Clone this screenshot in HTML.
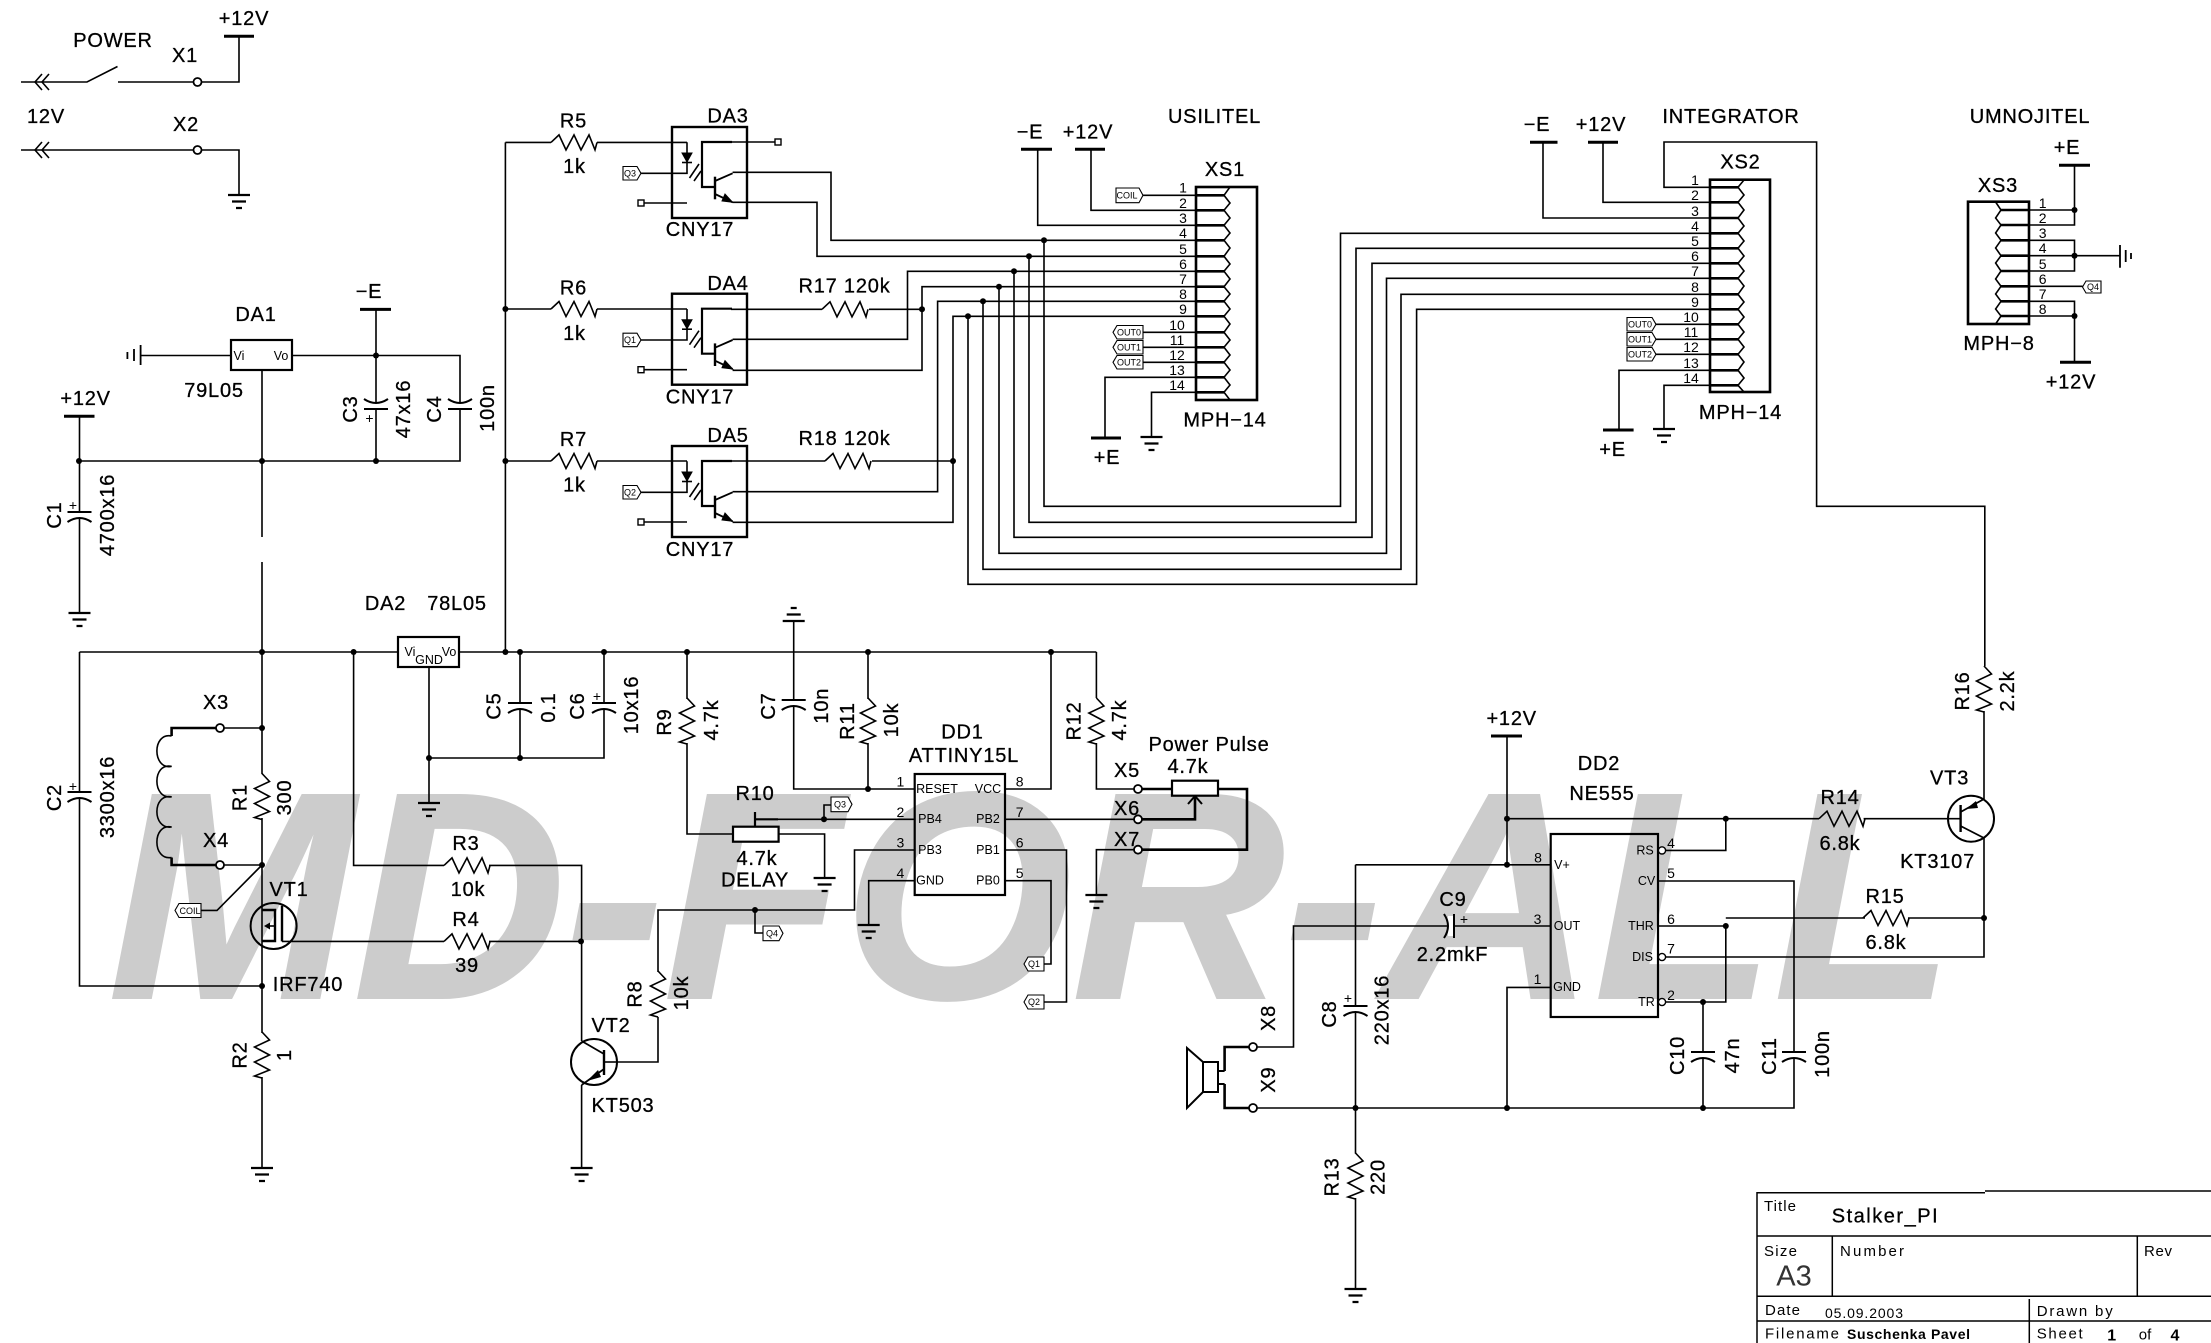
<!DOCTYPE html>
<html><head><meta charset="utf-8"><title>Stalker_PI</title>
<style>
html,body{margin:0;padding:0;background:#fff}
svg{display:block}
text{font-family:"Liberation Sans",sans-serif;fill:#000;stroke:none;text-anchor:middle;dominant-baseline:central}
.t{font-size:20px;letter-spacing:.8px;stroke:#000;stroke-width:.3px}
.s{font-size:14px}
.p{font-size:12.5px}
.g{font-size:9px}
.l{text-anchor:start}
.w{fill:none;stroke:#000;stroke-width:1.6}
.k{fill:none;stroke:#000;stroke-width:2.6}
.wm{font-size:295px;font-weight:bold;font-style:italic;fill:#ccc;stroke:#ccc;stroke-width:2px;letter-spacing:-.6px;text-anchor:start;dominant-baseline:auto}
</style></head><body>
<svg xmlns="http://www.w3.org/2000/svg" width="2211" height="1343" viewBox="0 0 2211 1343">
<defs>
<path id="r" class="w" d="M0 0L8 -7.5L15 7.5L23 -7.5L30 7.5L38 -7.5L44 7.5L46 0"/>
<path id="gnd" d="M-11 0H11M-7 6.5H7M-3 13H3" fill="none" stroke="#000" stroke-width="2.2"/>
<circle id="d" r="3" fill="#000"/>
<circle id="o" r="4" fill="#fff" stroke="#000" stroke-width="1.8"/>
<g id="cap"><rect x="-10" y="-3" width="20" height="6" fill="#fff"/><path d="M-12 -3H12M-12 7Q0 -1 12 7" fill="none" stroke="#000" stroke-width="2"/></g>
<g id="opto" fill="none" stroke="#000">
<rect x="0" y="0" width="75" height="91" stroke-width="2.4"/>
<path d="M15 15.3V46.3H-31" stroke-width="1.6"/>
<path d="M10 26H20L15 35Z" fill="#000" stroke-width="1"/><path d="M10 35.5H20" stroke-width="1.6"/>
<path d="M17.5 51L27 37M22 54L29 44" stroke-width="1.6"/>
<path d="M15 76H-31" stroke-width="1.6"/><rect x="-34" y="73" width="6" height="6" fill="#fff" stroke-width="1.4"/>
<path d="M60 15H30V60H43" stroke-width="2.2"/><path d="M43 49.7V72.3" stroke-width="2.4"/>
<path d="M43 54L60.6 46.3M43 67L60.6 75.3" stroke-width="1.8"/><path d="M60.6 75.3L50 74L53 67Z" fill="#000" stroke-width="1"/>
</g>
</defs>
<rect width="2211" height="1343" fill="#fff"/>
<text class="wm" x="108" y="998">MD-FOR-ALL</text>

<!-- power -->
<g class="w">
<path d="M21 82H87L117.5 66.5M118 82H239V36M224 36H254" />
<path d="M21 150H239V195"/>
<path d="M42 74L35 82L42 90M49 74L42 82L49 90"/>
<path d="M42 142L35 150L42 158M49 142L42 150L49 158"/>
</g>
<path d="M224 36.3H254" stroke="#000" stroke-width="3"/>
<use href="#o" x="197.5" y="82"/><use href="#o" x="197.5" y="150"/>
<use href="#gnd" x="239" y="195"/>
<text class="t" x="244" y="19">+12V</text><text class="t" x="113" y="41">POWER</text><text class="t" x="185" y="56">X1</text><text class="t" x="46" y="117">12V</text><text class="t" x="186" y="125">X2</text>

<!-- DA1 section -->
<g class="w">
<path d="M141 355.5H231M292 355.5H460V461H79M262 370V537M262 562V774M262 818V1033M262 1077V1168"/>
<path d="M376 309.4V461M79.5 416V613"/>
<path d="M505.4 142.4V652M505.4 142.4H551M597 142.4H687M505.4 309H551M597 309H687M505.4 461H551M597 461H687"/>
</g>
<path d="M140.6 345V365M134 349V361M127.4 352V359" stroke="#000" stroke-width="1.8"/>
<rect x="231" y="340" width="61" height="30" fill="none" stroke="#000" stroke-width="2.2"/>
<path d="M360 309.4H391M64 416.3H94.5" stroke="#000" stroke-width="3"/>
<use href="#d" x="376" y="355.5"/><use href="#d" x="79" y="461"/><use href="#d" x="262" y="461"/><use href="#d" x="376" y="461"/><use href="#d" x="505.4" y="309"/><use href="#d" x="505.4" y="461"/>
<use href="#gnd" x="79.5" y="613"/>
<use href="#cap" transform="translate(79.5 515)"/>
<use href="#cap" transform="translate(376 406) scale(1 -1)"/>
<use href="#cap" transform="translate(460 406) scale(1 -1)"/>
<text class="t" x="256" y="315">DA1</text><text class="t" x="214" y="391">79L05</text><text class="p" x="239" y="356">Vi</text><text class="p" x="281" y="356">Vo</text>
<text class="t" x="369" y="292">−E</text><text class="t" x="85.6" y="399">+12V</text>
<text class="s" x="73" y="505">+</text><text class="s" x="369.5" y="418">+</text>
<text class="t" transform="rotate(-90 55 515)" x="55" y="515">C1</text><text class="t" transform="rotate(-90 108 515)" x="108" y="515">4700x16</text>
<text class="t" transform="rotate(-90 351 409)" x="351" y="409">C3</text><text class="t" transform="rotate(-90 404 409)" x="404" y="409">47x16</text>
<text class="t" transform="rotate(-90 435 409)" x="435" y="409">C4</text><text class="t" transform="rotate(-90 488 408)" x="488" y="408">100n</text>
<use href="#r" x="551" y="142.4"/><use href="#r" x="551" y="309"/><use href="#r" x="551" y="461"/>
<text class="t" x="573.5" y="121.6">R5</text><text class="t" x="574.5" y="167">1k</text><text class="t" x="573.5" y="288.6">R6</text><text class="t" x="574.5" y="334">1k</text><text class="t" x="573.5" y="440">R7</text><text class="t" x="574.5" y="485.7">1k</text>

<!-- opto -->
<use href="#opto" x="672" y="127"/><use href="#opto" x="672" y="293.7"/><use href="#opto" x="672" y="446"/>
<g fill="#fff" stroke="#000" stroke-width="1.1">
<path d="M623 166.5H637L641 173.3L637 180H623Z"/><path d="M623 333.2H637L641 340L637 346.7H623Z"/><path d="M623 485.5H637L641 492.3L637 499H623Z"/>
</g>
<text class="g" x="630" y="173.5">Q3</text><text class="g" x="630" y="340">Q1</text><text class="g" x="630" y="492.5">Q2</text>
<rect x="775" y="139" width="6" height="6" fill="#fff" stroke="#000" stroke-width="1.4"/>
<g class="w">
<path d="M731 142H775"/>
<path d="M732.6 172.3H831V240.3H1196M732.6 202.3H817V256.3H1196"/>
<path d="M731 309.3H822M869 309.3H922M732.6 339.3H907.5V271.3H1196M732.6 370.3H922V286.7H1196"/>
<path d="M731 461H825M872 461H953M732.6 491.7H937.6V301.3H1196M732.6 522.3H953V316.3H1196"/>
<path d="M1044 240.3V506.3H1340.5V233.3H1710M1029 256.3V522.3H1356V248.3H1710M1014 271.3V537.3H1372V263.3H1710M999 286.7V553.3H1386.5V278.3H1710M983 301.3V569.3H1401V294.3H1710M968 316.3V584.3H1416.6V309.3H1710"/>
</g>
<use href="#r" x="822" y="309.3"/><use href="#r" x="825" y="461"/>
<use href="#d" x="922" y="309.3"/><use href="#d" x="953" y="461"/>
<use href="#d" x="1044" y="240.3"/><use href="#d" x="1029" y="256.3"/><use href="#d" x="1014" y="271.3"/><use href="#d" x="999" y="286.7"/><use href="#d" x="983" y="301.3"/><use href="#d" x="968" y="316.3"/>
<text class="t" x="728" y="116.7">DA3</text><text class="t" x="728" y="284">DA4</text><text class="t" x="728" y="436">DA5</text>
<text class="t" x="700" y="230">CNY17</text><text class="t" x="700" y="397.7">CNY17</text><text class="t" x="700" y="550">CNY17</text>
<text class="t" x="844.5" y="286.7">R17 120k</text><text class="t" x="844.5" y="439">R18 120k</text>

<!-- XS1 -->
<g class="w">
<path d="M1143 195.3H1196M1091 149V210.3H1196M1037.7 149V225.3H1196M1143 332.3H1196M1143 347.3H1196M1143 362.3H1196M1105 438V377.3H1196M1151.5 437V392.3H1196"/>
</g>
<path d="M1021 149.3H1052M1075 149.3H1105M1091 438H1121" stroke="#000" stroke-width="3"/>
<use href="#gnd" x="1151.5" y="437"/>
<rect x="1196" y="187" width="61" height="213" fill="none" stroke="#000" stroke-width="2.6"/>
<path class="k" d="M1196 195.3H1224M1196 210.3H1224M1196 225.3H1224M1196 240.3H1224M1196 256.3H1224M1196 271.3H1224M1196 286.7H1224M1196 301.3H1224M1196 316.3H1224M1196 332.3H1224M1196 347.3H1224M1196 362.3H1224M1196 377.3H1224M1196 392.3H1224"/>
<path class="w" d="M1230 187L1224 195.3L1230 203L1224 210.3L1230 218L1224 225.3L1230 233L1224 240.3L1230 248L1224 256.3L1230 264L1224 271.3L1230 279L1224 286.7L1230 294L1224 301.3L1230 309L1224 316.3L1230 324L1224 332.3L1230 340L1224 347.3L1230 355L1224 362.3L1230 370L1224 377.3L1230 385L1224 392.3L1230 400"/>
<g fill="#fff" stroke="#000" stroke-width="1.1">
<path d="M1116 188H1139L1143 195.3L1139 202.7H1116Z"/>
<path d="M1117 325.5H1143V339H1117L1113 332.3Z"/><path d="M1117 340.5H1143V354H1117L1113 347.3Z"/><path d="M1117 355.5H1143V369H1117L1113 362.3Z"/>
</g>
<text class="g" x="1127" y="195.5">COIL</text><text class="g" x="1129" y="332.5">OUT0</text><text class="g" x="1129" y="347.5">OUT1</text><text class="g" x="1129" y="362.5">OUT2</text>
<g class="s">
<text x="1183" y="187.5">1</text><text x="1183" y="203">2</text><text x="1183" y="218">3</text><text x="1183" y="233">4</text><text x="1183" y="249">5</text><text x="1183" y="264">6</text><text x="1183" y="279">7</text><text x="1183" y="294">8</text><text x="1183" y="309">9</text><text x="1177" y="325">10</text><text x="1177" y="340">11</text><text x="1177" y="355">12</text><text x="1177" y="370">13</text><text x="1177" y="385">14</text>
</g>
<text class="t" x="1030" y="132.7">−E</text><text class="t" x="1088" y="132.7">+12V</text><text class="t" x="1214.5" y="117">USILITEL</text><text class="t" x="1225" y="170">XS1</text><text class="t" x="1225" y="420.7">MPH−14</text><text class="t" x="1107" y="458">+E</text>

<!-- XS2 -->
<g class="w">
<path d="M1984.8 666V506.3H1816.6V142H1664V187.3H1710M1603 142V202.3H1710M1543 142V218H1710M1656 324.3H1710M1656 339.3H1710M1656 354.3H1710M1619 430V370.3H1710M1664 429V385.3H1710"/>
</g>
<path d="M1530 142.3H1557.5M1588 142.3H1618M1603 430H1633.6" stroke="#000" stroke-width="3"/>
<use href="#gnd" x="1664" y="429"/>
<rect x="1710" y="179.7" width="60" height="212.3" fill="none" stroke="#000" stroke-width="2.6"/>
<path class="k" d="M1710 187.3H1738M1710 202.3H1738M1710 218H1738M1710 233.3H1738M1710 248.3H1738M1710 263.3H1738M1710 278.3H1738M1710 294.3H1738M1710 309.3H1738M1710 324.3H1738M1710 339.3H1738M1710 354.3H1738M1710 370.3H1738M1710 385.3H1738"/>
<path class="w" d="M1744 180L1738 187.3L1744 195L1738 202.3L1744 210L1738 218L1744 226L1738 233.3L1744 241L1738 248.3L1744 256L1738 263.3L1744 271L1738 278.3L1744 286L1738 294.3L1744 302L1738 309.3L1744 317L1738 324.3L1744 332L1738 339.3L1744 347L1738 354.3L1744 362L1738 370.3L1744 378L1738 385.3L1744 392"/>
<g fill="#fff" stroke="#000" stroke-width="1.1">
<path d="M1627 317.5H1652L1656 324.3L1652 331H1627Z"/><path d="M1627 332.5H1652L1656 339.3L1652 346H1627Z"/><path d="M1627 347.5H1652L1656 354.3L1652 361H1627Z"/>
</g>
<text class="g" x="1640" y="324.5">OUT0</text><text class="g" x="1640" y="339.5">OUT1</text><text class="g" x="1640" y="354.5">OUT2</text>
<g class="s">
<text x="1695" y="180">1</text><text x="1695" y="195">2</text><text x="1695" y="211">3</text><text x="1695" y="226">4</text><text x="1695" y="241">5</text><text x="1695" y="256">6</text><text x="1695" y="271">7</text><text x="1695" y="287">8</text><text x="1695" y="302">9</text><text x="1691" y="317">10</text><text x="1691" y="332">11</text><text x="1691" y="347">12</text><text x="1691" y="363">13</text><text x="1691" y="378">14</text>
</g>
<text class="t" x="1537" y="125">−E</text><text class="t" x="1601" y="125">+12V</text><text class="t" x="1731" y="117">INTEGRATOR</text><text class="t" x="1740.5" y="162.7">XS2</text><text class="t" x="1740.5" y="413">MPH−14</text><text class="t" x="1612.6" y="450">+E</text>

<!-- XS3 -->
<g class="w">
<path d="M2029 210H2074.5M2029 225H2074.5V165M2029 240.3H2074.5V271H2029M2029 255.7H2120M2029 286.3H2082.5M2029 301.3H2074.5V362M2029 316H2074.5"/>
</g>
<path d="M2059 165.3H2090M2060 362.3H2091" stroke="#000" stroke-width="3"/>
<path d="M2120 245V267.7M2125.7 250V262M2131 253V259" stroke="#000" stroke-width="1.8"/>
<rect x="1968" y="201.7" width="61" height="122.3" fill="none" stroke="#000" stroke-width="2.6"/>
<path class="k" d="M2001 210H2029M2001 225H2029M2001 240.3H2029M2001 255.7H2029M2001 271H2029M2001 286.3H2029M2001 301.3H2029M2001 316H2029"/>
<path class="w" d="M1995.6 202L2001 210L1995.6 218L2001 225L1995.6 233L2001 240.3L1995.6 248L2001 255.7L1995.6 263L2001 271L1995.6 279L2001 286.3L1995.6 294L2001 301.3L1995.6 309L2001 316L1995.6 324"/>
<use href="#d" x="2074.5" y="210"/><use href="#d" x="2074.5" y="255.7"/><use href="#d" x="2074.5" y="316"/>
<path d="M2082.5 287L2086 281H2101V293H2086Z" fill="#fff" stroke="#000" stroke-width="1.1"/>
<text class="g" x="2093" y="287">Q4</text>
<g class="s">
<text x="2042.7" y="203">1</text><text x="2042.7" y="218">2</text><text x="2042.7" y="233">3</text><text x="2042.7" y="248">4</text><text x="2042.7" y="264">5</text><text x="2042.7" y="279">6</text><text x="2042.7" y="294">7</text><text x="2042.7" y="309">8</text>
</g>
<text class="t" x="2030" y="117">UMNOJITEL</text><text class="t" x="1998" y="186">XS3</text><text class="t" x="1999" y="344">MPH−8</text><text class="t" x="2067" y="148">+E</text><text class="t" x="2071" y="382.7">+12V</text>

<!-- DA2, bus -->
<g class="w">
<path d="M79.5 652H398M459 652H1096.4M429 667V803M429 758H604V652M520 652V758"/>
<path d="M79.5 652V986H262M353.6 652V865.4H444M489 865.4H581.6V1041M581.6 1085V1168M282 941.4H444M489 941.4H581.6"/>
<path d="M220 728H262M220 865H262M201 910.4H217L262 865"/>
<path d="M687 652V699M687 743V834H733M778.6 834H824.6V878"/>
<path d="M793.7 621V789H914.7M868 652V699M868 743V789"/>
<path d="M1005 789H1051V652M1096.4 652V698M1096.4 743V789H1138M1005 819.3H1138M778 819.3H914.7M824 819.3V805H831"/>
<path d="M914.7 850H854.5V910H658V972M658 1017V1062H617M755 910V933H763"/>
<path d="M914.7 880.7H868.7V925M1005 850H1066.5V1002H1044M1005 880.7H1051V964H1044M1138 849.7H1096.4V895"/>
</g>
<rect x="398" y="637" width="61" height="30" fill="none" stroke="#000" stroke-width="2.2"/>
<text class="p" x="410" y="652">Vi</text><text class="p" x="429" y="660">GND</text><text class="p" x="449" y="652">Vo</text>
<text class="t" x="385.5" y="604">DA2</text><text class="t" x="457" y="604">78L05</text>
<use href="#d" x="353.6" y="652"/><use href="#d" x="505.4" y="652"/><use href="#d" x="520" y="652"/><use href="#d" x="604" y="652"/><use href="#d" x="687" y="652"/><use href="#d" x="868" y="652"/><use href="#d" x="1051" y="652"/>
<use href="#d" x="429" y="758"/><use href="#d" x="520" y="758"/><use href="#d" x="262" y="728"/><use href="#d" x="262" y="865"/><use href="#d" x="262" y="986"/><use href="#d" x="581" y="941.4"/><use href="#d" x="868" y="789"/><use href="#d" x="824" y="819.3"/><use href="#d" x="755" y="910"/><use href="#d" x="262" y="652"/>
<use href="#gnd" x="429" y="803"/><use href="#gnd" x="262" y="1168"/><use href="#gnd" x="581.6" y="1168"/><use href="#gnd" x="824.6" y="878"/><use href="#gnd" x="868.7" y="925"/><use href="#gnd" x="1096.4" y="895"/>
<use href="#gnd" transform="translate(793.7 621) scale(1 -1)"/>
<use href="#cap" transform="translate(79.5 795)"/><use href="#cap" transform="translate(520 706)"/><use href="#cap" transform="translate(604 706)"/><use href="#cap" transform="translate(793.7 703)"/>
<text class="s" x="73" y="786">+</text><text class="s" x="597" y="696">+</text>
<text class="t" transform="rotate(-90 55 797.5)" x="55" y="797.5">C2</text><text class="t" transform="rotate(-90 108 797)" x="108" y="797">3300x16</text>
<text class="t" transform="rotate(-90 494.6 706)" x="494.6" y="706">C5</text><text class="t" transform="rotate(-90 549 707.5)" x="549" y="707.5">0.1</text>
<text class="t" transform="rotate(-90 578 706)" x="578" y="706">C6</text><text class="t" transform="rotate(-90 632 705)" x="632" y="705">10x16</text>
<text class="t" transform="rotate(-90 665 722)" x="665" y="722">R9</text><text class="t" transform="rotate(-90 712 720)" x="712" y="720">4.7k</text>
<text class="t" transform="rotate(-90 769 706)" x="769" y="706">C7</text><text class="t" transform="rotate(-90 822 705.7)" x="822" y="705.7">10n</text>
<text class="t" transform="rotate(-90 848 721)" x="848" y="721">R11</text><text class="t" transform="rotate(-90 892 720)" x="892" y="720">10k</text>
<text class="t" transform="rotate(-90 1074.6 721)" x="1074.6" y="721">R12</text><text class="t" transform="rotate(-90 1120 720)" x="1120" y="720">4.7k</text>
<text class="t" transform="rotate(-90 240.7 797.5)" x="240.7" y="797.5">R1</text><text class="t" transform="rotate(-90 285 797.5)" x="285" y="797.5">300</text>
<text class="t" transform="rotate(-90 240.7 1055)" x="240.7" y="1055">R2</text><text class="t" transform="rotate(-90 285 1055)" x="285" y="1055">1</text>
<text class="t" transform="rotate(-90 635.6 994)" x="635.6" y="994">R8</text><text class="t" transform="rotate(-90 682 993)" x="682" y="993">10k</text>
<use href="#r" transform="translate(262 773.5) rotate(90)"/><use href="#r" transform="translate(262 1032) rotate(90)"/><use href="#r" transform="translate(687 698) rotate(90)"/><use href="#r" transform="translate(868 698) rotate(90)"/><use href="#r" transform="translate(1096.4 698) rotate(90)"/><use href="#r" transform="translate(658 971) rotate(90)"/>
<use href="#r" x="444" y="865.4"/><use href="#r" x="444" y="941.4"/>

<!-- coil -->
<path class="k" d="M220 728H171.6V736M220 865H171.6V857.5"/>
<path class="w" stroke-width="1.8" d="M171.6 736C152 732 152 770 171.6 766.4C152 762 152 800 171.6 796.8C152 793 152 830 171.6 827C152 823 152 861 171.6 857.5"/>
<use href="#o" x="220" y="728"/><use href="#o" x="220" y="865"/>
<path d="M175 910.4L179 903.5H201V917.5H179Z" fill="#fff" stroke="#000" stroke-width="1.1"/>
<text class="g" x="190" y="911">COIL</text>
<text class="t" x="216" y="703">X3</text><text class="t" x="216" y="841">X4</text><text class="t" x="289" y="890">VT1</text><text class="t" x="308" y="985">IRF740</text>
<text class="t" x="466" y="844">R3</text><text class="t" x="468" y="890">10k</text><text class="t" x="466" y="920">R4</text><text class="t" x="467" y="966">39</text>
<!-- VT1 -->
<circle cx="273.6" cy="926" r="23" fill="none" stroke="#000" stroke-width="2"/>
<path d="M262 910H275V941H262" fill="none" stroke="#000" stroke-width="2.4"/><path d="M282 905.7V941.4" stroke="#000" stroke-width="2.4"/>
<path d="M275 926H267" stroke="#000" stroke-width="1.6"/><path d="M264 926L270 922.5V929.5Z" fill="#000"/>
<!-- VT2 -->
<circle cx="594" cy="1062" r="23" fill="none" stroke="#000" stroke-width="2"/>
<path d="M604 1050V1075" stroke="#000" stroke-width="2.4"/><path d="M604 1062H617" stroke="#000" stroke-width="1.6"/>
<path d="M581.6 1041L604 1054M604 1069L581.6 1085" stroke="#000" stroke-width="1.8"/><path d="M587 1081L598 1070L601 1077Z" fill="#000"/>
<text class="t" x="611" y="1026">VT2</text><text class="t" x="623" y="1106">KT503</text>

<!-- DD1 -->
<rect x="914.7" y="774" width="90.3" height="121" fill="none" stroke="#000" stroke-width="2.2"/>
<text class="t" x="962.5" y="732.7">DD1</text><text class="t" x="964" y="756">ATTINY15L</text>
<g class="p"><text x="937" y="789">RESET</text><text x="930" y="819">PB4</text><text x="930" y="850">PB3</text><text x="930" y="880.7">GND</text><text x="988" y="789">VCC</text><text x="988" y="819">PB2</text><text x="988" y="850">PB1</text><text x="988" y="880.7">PB0</text></g>
<g class="s"><text x="900.4" y="781.7">1</text><text x="900.4" y="812">2</text><text x="900.4" y="842.7">3</text><text x="900.4" y="873">4</text><text x="1019.6" y="781.7">8</text><text x="1019.6" y="812">7</text><text x="1019.6" y="842.7">6</text><text x="1019.6" y="873">5</text></g>
<!-- R10 -->
<rect x="733" y="826.7" width="45.6" height="15" fill="#fff" stroke="#000" stroke-width="2.2"/>
<path d="M755 812V826.7M755 819.3H778" fill="none" stroke="#000" stroke-width="2.2"/>
<text class="t" x="755" y="794">R10</text><text class="t" x="757" y="859">4.7k</text><text class="t" x="755" y="880.7">DELAY</text>
<g fill="#fff" stroke="#000" stroke-width="1.1">
<path d="M831 797H848L852 804.3L848 811.7H831Z"/><path d="M763 926H779L783 933.3L779 940.7H763Z"/>
<path d="M1044 957H1028L1024 964L1028 971H1044Z"/><path d="M1044 995H1028L1024 1002L1028 1009H1044Z"/>
</g>
<text class="g" x="840" y="804.5">Q3</text><text class="g" x="772" y="933.5">Q4</text><text class="g" x="1034" y="964">Q1</text><text class="g" x="1034" y="1002">Q2</text>
<!-- pot -->
<path class="k" d="M1138 789H1172M1218 789H1247V849.7H1138M1138 819.3H1195V797"/>
<path d="M1188 804L1195 796L1202 804" fill="none" stroke="#000" stroke-width="2"/>
<rect x="1172" y="780.7" width="46" height="15" fill="#fff" stroke="#000" stroke-width="2.2"/>
<use href="#o" x="1138" y="789"/><use href="#o" x="1138" y="819.3"/><use href="#o" x="1138" y="849.7"/>
<text class="t" x="1127" y="771">X5</text><text class="t" x="1127" y="809">X6</text><text class="t" x="1127" y="840">X7</text><text class="t" x="1209" y="745">Power Pulse</text><text class="t" x="1188" y="767">4.7k</text>

<!-- DD2 -->
<g class="w">
<path d="M1507 736V864.8M1507 818.7H1819M1863.6 818.7H1960.6M1725.8 818.7V850.4H1666"/>
<path d="M1355.5 864.8H1550.7M1355.5 864.8V1153.6M1355.5 1198V1289"/>
<path d="M1550.7 926H1293.5V1047H1253"/>
<path d="M1550.7 987.4H1507V1108"/>
<path d="M1253 1108H1794V881H1658M1703 1002V1108"/>
<path d="M1658 926H1725.8V1002H1666M1725.8 918H1865M1908 918H1984M1666 957H1984V838M1984 799V711"/>
</g>
<path class="k" d="M1224.6 1071V1047H1253M1224.6 1084V1108H1253"/>
<path d="M1224.6 1071H1218M1224.6 1084H1218" stroke="#000" stroke-width="2"/>
<path d="M1187 1048L1203 1062H1218V1092H1203L1187 1108Z" fill="#fff" stroke="#000" stroke-width="2"/><path d="M1203 1062V1092" stroke="#000" stroke-width="2"/>
<use href="#o" x="1253" y="1047"/><use href="#o" x="1253" y="1108"/>
<path d="M1491 736H1522" stroke="#000" stroke-width="3"/>
<rect x="1550.7" y="834" width="107.3" height="183" fill="none" stroke="#000" stroke-width="2.2"/>
<circle cx="1662" cy="850.4" r="3.6" fill="#fff" stroke="#000" stroke-width="1.4"/><circle cx="1662" cy="957" r="3.6" fill="#fff" stroke="#000" stroke-width="1.4"/><circle cx="1662" cy="1002" r="3.6" fill="#fff" stroke="#000" stroke-width="1.4"/>
<use href="#d" x="1507" y="818.7"/><use href="#d" x="1507" y="864.8"/><use href="#d" x="1725.8" y="818.7"/><use href="#d" x="1725.8" y="926"/><use href="#d" x="1984" y="918"/><use href="#d" x="1703" y="1002"/><use href="#d" x="1355.5" y="1108"/><use href="#d" x="1507" y="1108"/><use href="#d" x="1703" y="1108"/>
<use href="#gnd" x="1355.5" y="1289"/>
<use href="#cap" transform="translate(1355.5 1009)"/><use href="#cap" transform="translate(1703 1055)"/><use href="#cap" transform="translate(1794 1055)"/><use href="#cap" transform="translate(1451 926) rotate(90)"/>
<use href="#r" x="1819" y="818.7"/><use href="#r" x="1863" y="918"/>
<use href="#r" transform="translate(1355.5 1153) rotate(90)"/><use href="#r" transform="translate(1984 666) rotate(90)"/>
<text class="s" x="1348" y="998">+</text><text class="s" x="1464" y="919">+</text>
<text class="t" x="1511.7" y="719">+12V</text><text class="t" x="1599" y="764">DD2</text><text class="t" x="1602" y="794">NE555</text><text class="t" x="1453" y="900">C9</text><text class="t" x="1452.5" y="955">2.2mkF</text>
<g class="p"><text x="1562" y="865">V+</text><text x="1567" y="926">OUT</text><text x="1567" y="987">GND</text><text x="1645" y="850.4">RS</text><text x="1646.5" y="881">CV</text><text x="1641" y="926">THR</text><text x="1642.5" y="957">DIS</text><text x="1646.5" y="1002">TR</text></g>
<g class="s"><text x="1538" y="857.6">8</text><text x="1537.5" y="919">3</text><text x="1537.5" y="979">1</text><text x="1671" y="843">4</text><text x="1671" y="873">5</text><text x="1671" y="919">6</text><text x="1671" y="948.5">7</text><text x="1671" y="995">2</text></g>
<text class="t" transform="rotate(-90 1330 1014)" x="1330" y="1014">C8</text><text class="t" transform="rotate(-90 1382.5 1010)" x="1382.5" y="1010">220x16</text>
<text class="t" transform="rotate(-90 1269 1018)" x="1269" y="1018">X8</text><text class="t" transform="rotate(-90 1269 1079.6)" x="1269" y="1079.6">X9</text>
<text class="t" transform="rotate(-90 1332.5 1177)" x="1332.5" y="1177">R13</text><text class="t" transform="rotate(-90 1378.5 1177)" x="1378.5" y="1177">220</text>
<text class="t" transform="rotate(-90 1678 1055.5)" x="1678" y="1055.5">C10</text><text class="t" transform="rotate(-90 1733 1055.5)" x="1733" y="1055.5">47n</text>
<text class="t" transform="rotate(-90 1770 1056)" x="1770" y="1056">C11</text><text class="t" transform="rotate(-90 1823 1054)" x="1823" y="1054">100n</text>
<text class="t" transform="rotate(-90 1963 691)" x="1963" y="691">R16</text><text class="t" transform="rotate(-90 2008 691)" x="2008" y="691">2.2k</text>
<text class="t" x="1840" y="798">R14</text><text class="t" x="1840" y="844">6.8k</text><text class="t" x="1885" y="897">R15</text><text class="t" x="1886" y="943">6.8k</text>
<!-- VT3 -->
<circle cx="1971" cy="818.7" r="23" fill="none" stroke="#000" stroke-width="2"/>
<path d="M1960.6 805V832" stroke="#000" stroke-width="2.4"/>
<path d="M1960.6 812L1984 799M1960.6 826L1984 838" stroke="#000" stroke-width="1.8"/><path d="M1966 809L1976 801L1978 808Z" fill="#000"/>
<text class="t" x="1949.6" y="778.5">VT3</text><text class="t" x="1937.6" y="862">KT3107</text>

<!-- title block -->
<path d="M1757 1343V1192.7H1985M1985 1191H2211M1757 1236H2211M1757 1296.3H2211M1757 1321H2211M1832.3 1236V1296.3M2137.3 1236V1296.3M2029.3 1299V1343" fill="none" stroke="#000" stroke-width="1.5"/>
<g style="font-size:15px">
<text class="l" x="1764" y="1206.7" textLength="32" style="font-size:15px">Title</text><text class="l" x="1764" y="1251.7" textLength="33" style="font-size:15px">Size</text><text class="l" x="1840" y="1251.7" textLength="64" style="font-size:15px">Number</text><text class="l" x="2144" y="1251.7" textLength="28" style="font-size:15px">Rev</text>
<text class="l" x="1765" y="1310.7" textLength="35" style="font-size:15px">Date</text><text class="l" x="2036.7" y="1311.7" textLength="76" style="font-size:15px">Drawn by</text><text class="l" x="1765" y="1334" textLength="74" style="font-size:15px">Filename</text><text class="l" x="2036.7" y="1334" textLength="46" style="font-size:15px">Sheet</text>
<text class="l" x="1825" y="1313" textLength="78" style="font-size:14px">05.09.2003</text>
<text x="2145" y="1335" style="font-size:15px">of</text>
</g>
<text class="l" x="1831.7" y="1216.7" textLength="106" style="font-size:20px;stroke:#000;stroke-width:.3px">Stalker_PI</text>
<text class="l" x="1847" y="1334" textLength="123" style="font-size:14px;font-weight:bold">Suschenka Pavel</text>
<text x="1794" y="1276.7" style="font-size:29px;font-weight:normal;fill:#333">A3</text>
<text x="2111.7" y="1336" style="font-size:16px;font-weight:bold">1</text><text x="2175" y="1336" style="font-size:16px;font-weight:bold">4</text>
</svg>
</body></html>
